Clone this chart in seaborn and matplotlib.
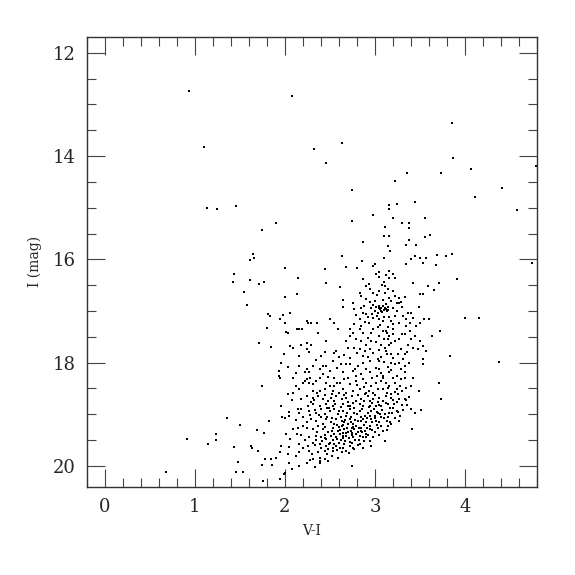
import pandas as pd
import matplotlib
matplotlib.use("Agg")
import matplotlib.pyplot as plt
import seaborn as sns
from matplotlib.ticker import MultipleLocator

# star positions (V-I, I), grouped by region
bright = [
    (0.94, 12.74), (2.08, 12.83), (3.86, 13.35), (1.10, 13.83), (2.63, 13.74), (2.32, 13.87),
    (2.46, 14.14), (3.87, 14.04), (4.07, 14.26), (4.79, 14.19), (3.36, 14.32), (3.73, 14.32),
    (3.22, 14.48), (4.41, 14.62), (2.75, 14.66), (4.11, 14.79), (1.14, 15.00), (1.25, 15.03),
    (1.46, 14.97), (4.58, 15.05), (3.44, 14.88), (3.25, 14.92), (3.16, 14.95), (3.16, 15.03),
    (2.98, 15.14), (1.90, 15.30), (1.74, 15.43), (2.75, 15.26), (3.20, 15.20), (3.30, 15.29),
    (3.38, 15.30), (3.38, 15.39), (3.56, 15.19), (3.11, 15.37), (3.10, 15.54), (3.16, 15.54),
    (3.61, 15.53), (3.56, 15.57), (3.38, 15.63), (3.34, 15.72), (3.46, 15.72), (2.87, 15.67),
    (3.15, 15.74), (3.17, 15.83), (1.64, 15.90), (1.66, 15.98), (1.61, 16.01), (2.63, 15.94),
    (3.69, 15.92), (3.79, 15.94), (3.86, 15.90), (3.44, 15.94), (3.40, 16.00), (3.50, 15.98),
    (3.57, 15.97), (3.10, 15.97), (3.00, 16.09), (2.98, 16.13), (3.34, 16.10), (3.53, 16.08),
    (3.68, 16.11), (4.74, 16.08), (2.68, 16.14), (2.80, 16.17), (2.86, 16.03), (2.00, 16.17),
    (2.44, 16.19), (3.91, 16.39),
]

giants = [
    (3.01, 16.28), (3.05, 16.24), (3.16, 16.23), (3.20, 16.29), (3.22, 16.37), (3.16, 16.37),
    (2.87, 16.39), (3.71, 16.46), (3.42, 16.45), (2.93, 16.48), (3.10, 16.44), (2.46, 16.45),
    (2.15, 16.37), (1.77, 16.44), (1.61, 16.40), (1.71, 16.48), (1.42, 16.43), (1.43, 16.29),
    (3.11, 16.52), (2.90, 16.52), (2.94, 16.58), (2.98, 16.65), (3.05, 16.61), (3.11, 16.65),
    (3.20, 16.61), (3.59, 16.52), (3.66, 16.60), (2.61, 16.54), (2.83, 16.65), (2.85, 16.71),
    (3.22, 16.71), (3.27, 16.74), (3.33, 16.72), (3.50, 16.68), (3.53, 16.68), (3.16, 16.75),
    (2.90, 16.77), (2.64, 16.79), (2.00, 16.72), (2.13, 16.68), (1.55, 16.63),
    (2.94, 16.83), (2.76, 16.84), (2.98, 16.88), (3.01, 16.92), (3.05, 16.90), (3.07, 16.94),
    (3.09, 16.90), (3.11, 16.94), (3.14, 16.92), (3.27, 16.84), (3.24, 16.85), (3.29, 16.83),
    (3.49, 16.92), (2.84, 16.94), (2.77, 16.97), (3.13, 17.00), (3.07, 17.00), (3.03, 17.03),
    (3.00, 17.00), (2.87, 17.03), (2.90, 17.05), (2.97, 17.06), (3.37, 17.03), (3.40, 17.03),
    (2.65, 16.92), (2.79, 17.08), (3.22, 17.10), (1.81, 17.05), (1.83, 17.10), (2.06, 17.03),
    (1.98, 17.08), (1.58, 16.88), (3.06, 16.97), (3.10, 16.98), (3.12, 16.96), (3.04, 16.95),
    (3.15, 16.99), (3.08, 17.02),
    (2.83, 17.16), (2.89, 17.21), (2.93, 17.23), (2.98, 17.14), (3.04, 17.15), (3.09, 17.19),
    (3.16, 17.11), (3.31, 17.10), (3.34, 17.15), (3.42, 17.14), (3.50, 17.24), (3.55, 17.15),
    (3.60, 17.16), (4.00, 17.14), (4.16, 17.14), (3.46, 17.29), (3.39, 17.23), (3.27, 17.23),
    (3.20, 17.26), (3.14, 17.32), (3.03, 17.32), (2.98, 17.35), (2.83, 17.35), (2.77, 17.26),
    (2.72, 17.35), (2.50, 17.15), (2.55, 17.23), (2.59, 17.35), (2.24, 17.19), (2.26, 17.23),
    (2.29, 17.23), (2.36, 17.24), (2.37, 17.42), (2.13, 17.35), (2.16, 17.35), (2.19, 17.35),
    (2.00, 17.23), (2.01, 17.41), (2.03, 17.42), (1.94, 17.15), (1.80, 17.33), (3.72, 17.39),
    (3.39, 17.39),
]

middle = [
    (3.13, 17.42), (3.09, 17.39), (2.96, 17.42), (2.87, 17.42), (2.76, 17.42), (3.16, 17.48),
    (3.20, 17.45), (3.14, 17.55), (2.92, 17.52), (2.72, 17.48), (2.79, 17.55), (2.85, 17.58),
    (2.90, 17.65), (2.96, 17.58), (3.01, 17.61), (3.07, 17.65), (3.16, 17.66), (3.22, 17.58),
    (3.27, 17.55), (3.33, 17.45), (3.44, 17.48), (3.50, 17.58), (3.63, 17.48), (2.46, 17.58),
    (2.18, 17.65), (2.25, 17.63), (2.29, 17.65), (2.06, 17.68), (2.09, 17.71), (1.71, 17.62),
    (2.68, 17.58), (3.53, 17.68),
    (3.11, 17.71), (3.48, 17.74), (3.42, 17.71), (3.37, 17.65), (3.29, 17.74), (3.33, 17.84),
    (3.26, 17.84), (3.18, 17.84), (3.13, 17.84), (3.07, 17.90), (3.03, 17.94), (2.98, 17.81),
    (2.94, 17.74), (2.89, 17.77), (2.83, 17.74), (2.77, 17.71), (2.70, 17.71), (2.57, 17.77),
    (2.55, 17.81), (2.24, 17.74), (2.27, 17.79), (2.16, 17.87), (1.99, 17.84), (1.85, 17.70),
    (3.57, 17.77), (3.83, 17.87), (4.38, 17.98), (3.53, 17.94), (3.31, 17.94), (3.05, 17.97),
    (2.94, 17.97),
    (1.96, 18.00), (2.03, 18.08), (1.93, 18.16), (1.93, 18.26), (1.95, 18.29), (2.09, 18.29),
    (2.16, 18.06), (2.24, 18.13), (2.22, 18.19), (2.27, 18.19), (2.31, 18.06), (2.39, 18.13),
    (2.42, 18.06), (2.46, 18.06), (2.53, 17.97), (2.68, 18.03), (2.72, 18.03), (2.76, 18.16),
    (2.81, 18.06), (2.87, 18.00), (2.90, 18.13), (2.94, 18.19), (3.01, 18.10), (3.05, 18.13),
    (3.09, 18.26), (3.16, 18.19), (3.22, 18.03), (3.27, 18.00), (3.29, 18.13), (3.33, 18.06),
    (3.18, 18.00), (3.53, 18.03), (3.24, 18.26), (3.33, 18.19), (2.79, 18.26), (2.64, 18.19),
    (2.24, 18.32), (2.22, 18.35), (2.27, 18.39), (2.31, 18.42), (2.39, 18.29), (2.46, 18.39),
    (2.50, 18.45), (2.55, 18.45), (2.61, 18.39), (2.66, 18.32), (2.72, 18.42), (2.79, 18.35),
    (2.87, 18.32), (2.90, 18.39), (2.96, 18.45), (3.01, 18.39), (3.07, 18.35), (3.09, 18.52),
    (3.16, 18.45), (3.22, 18.39), (3.24, 18.52), (3.29, 18.32), (3.33, 18.29), (3.49, 18.55),
    (3.71, 18.39), (1.74, 18.46), (2.16, 18.52), (2.09, 18.58), (2.31, 18.55), (2.39, 18.55),
    (2.44, 18.52), (2.53, 18.55), (2.64, 18.52), (2.68, 18.58), (2.76, 18.55), (2.83, 18.52),
    (2.90, 18.58), (2.98, 18.58), (3.03, 18.52), (3.13, 18.58), (3.18, 18.61), (2.03, 18.60),
    (3.09, 18.29),
]

faint = [
    (2.24, 18.65), (2.31, 18.68), (2.37, 18.65), (2.42, 18.71), (2.48, 18.74), (2.51, 18.68),
    (2.57, 18.65), (2.63, 18.71), (2.68, 18.68), (2.74, 18.65), (2.79, 18.74), (2.85, 18.71),
    (2.89, 18.61), (2.92, 18.65), (2.94, 18.74), (2.98, 18.71), (3.03, 18.77), (3.09, 18.74),
    (3.14, 18.81), (3.18, 18.68), (3.27, 18.71), (3.33, 18.71), (3.35, 18.72), (3.73, 18.71),
    (2.31, 18.81), (2.39, 18.84), (2.46, 18.81), (2.53, 18.84), (2.64, 18.81), (2.72, 18.84),
    (2.77, 18.87), (2.87, 18.84), (2.94, 18.84), (3.01, 18.84), (3.07, 18.84), (3.20, 18.87),
    (3.24, 18.77), (2.14, 18.90), (2.18, 18.89), (1.96, 18.84), (2.29, 18.77),
    (2.16, 18.97), (2.27, 18.94), (2.35, 18.97), (2.40, 18.90), (2.44, 19.00), (2.50, 18.94),
    (2.55, 18.90), (2.59, 19.00), (2.64, 18.94), (2.68, 19.03), (2.72, 18.90), (2.77, 18.97),
    (2.83, 18.94), (2.89, 19.03), (2.92, 18.97), (2.96, 18.94), (3.00, 19.03), (3.03, 18.97),
    (3.07, 19.06), (3.11, 19.00), (3.16, 18.97), (3.24, 18.94), (3.45, 18.97), (3.51, 18.92),
    (3.28, 19.03), (3.27, 19.14), (1.97, 19.06), (2.00, 19.08), (2.05, 19.03), (2.20, 19.06),
    (2.29, 19.10), (2.35, 19.13), (2.40, 19.06), (2.46, 19.10), (2.51, 19.16), (2.57, 19.10),
    (2.63, 19.13), (2.66, 19.16), (2.72, 19.10), (2.76, 19.19), (2.81, 19.13), (2.87, 19.10),
    (2.90, 19.16), (2.96, 19.10), (3.01, 19.13), (3.05, 19.16), (3.13, 19.13), (3.18, 19.19),
    (1.82, 19.13), (1.36, 19.08), (2.24, 19.16),
    (2.09, 19.29), (2.14, 19.26), (2.24, 19.26), (2.31, 19.29), (2.37, 19.23), (2.42, 19.29),
    (2.48, 19.35), (2.53, 19.26), (2.59, 19.32), (2.63, 19.23), (2.66, 19.29), (2.70, 19.35),
    (2.74, 19.26), (2.77, 19.29), (2.81, 19.35), (2.85, 19.26), (2.89, 19.32), (2.94, 19.29),
    (3.00, 19.35), (3.03, 19.26), (3.09, 19.32), (3.14, 19.23), (3.41, 19.28), (2.13, 19.39),
    (2.01, 19.39), (2.27, 19.45), (2.35, 19.42), (2.40, 19.45), (2.46, 19.48), (2.51, 19.42),
    (2.57, 19.45), (2.61, 19.39), (2.68, 19.42), (2.76, 19.45), (2.83, 19.42), (2.90, 19.39),
    (2.98, 19.45), (3.11, 19.52), (1.69, 19.31), (1.77, 19.36), (1.50, 19.20), (1.24, 19.39),
    (1.23, 19.49),
    (2.55, 19.19), (2.60, 19.24), (2.64, 19.37), (2.69, 19.26), (2.73, 19.32), (2.79, 19.23),
    (2.86, 19.34), (2.91, 19.26), (2.82, 19.50), (2.75, 19.55), (2.67, 19.52), (2.60, 19.55),
    (2.53, 19.50), (2.64, 19.47), (2.71, 19.47), (2.79, 19.39), (2.87, 19.45), (2.94, 19.52),
    (2.53, 19.65), (2.48, 19.68), (2.95, 19.03), (3.00, 19.08), (2.97, 19.15), (3.02, 18.95),
    (2.16, 19.58), (2.26, 19.61), (2.31, 19.55), (2.39, 19.58), (2.46, 19.61), (2.50, 19.55),
    (2.55, 19.58), (2.61, 19.65), (2.66, 19.58), (2.72, 19.61), (2.77, 19.68), (2.83, 19.58),
    (2.87, 19.65), (2.96, 19.61), (2.27, 19.71), (2.37, 19.74), (2.44, 19.71), (2.53, 19.71),
    (2.63, 19.74), (2.68, 19.71), (2.76, 19.65), (1.96, 19.61), (2.05, 19.63), (1.95, 19.74),
    (2.03, 19.77), (2.16, 19.74), (1.62, 19.61), (1.63, 19.65), (1.70, 19.72), (1.43, 19.63),
    (1.15, 19.57), (0.91, 19.48),
    (2.39, 19.84), (2.44, 19.87), (2.39, 19.90), (2.31, 19.87), (2.59, 19.84), (2.24, 19.95),
    (2.16, 20.00), (2.05, 19.94), (2.08, 20.06), (1.78, 19.86), (1.85, 19.86), (1.90, 19.85),
    (1.75, 19.99), (1.86, 19.98), (1.48, 19.92), (2.75, 20.01), (2.39, 19.95),
    (1.46, 20.11), (1.53, 20.12), (0.68, 20.12), (1.76, 20.30), (1.94, 20.26), (1.99, 20.16),
    (2.00, 20.13),
]

# second pass over the crowded parts of the diagram
faint_extra = [
    (2.33, 18.92), (2.38, 19.02), (2.42, 19.18), (2.45, 19.25), (2.47, 19.05), (2.49, 18.88),
    (2.52, 19.08), (2.54, 19.38), (2.56, 18.80), (2.58, 19.20), (2.60, 18.93), (2.62, 19.05),
    (2.65, 19.42), (2.67, 19.11), (2.69, 18.97), (2.70, 19.18), (2.73, 19.05), (2.75, 19.37),
    (2.78, 19.12), (2.80, 18.99), (2.82, 19.27), (2.84, 19.06), (2.86, 18.90), (2.88, 19.20),
    (2.91, 19.08), (2.93, 18.86), (2.95, 19.22), (2.99, 18.90), (3.02, 19.20), (3.04, 18.82),
    (3.06, 19.00), (3.08, 18.92), (3.10, 19.08), (3.12, 18.78), (3.15, 19.05), (3.17, 18.88),
    (3.19, 18.98), (3.21, 18.80), (2.36, 19.35), (2.41, 19.52), (2.44, 19.40), (2.49, 19.58),
    (2.52, 19.33), (2.57, 19.62), (2.61, 19.30), (2.62, 19.50), (2.68, 19.36), (2.72, 19.54),
    (2.74, 19.40), (2.78, 19.49), (2.81, 19.60), (2.84, 19.33), (2.88, 19.52), (2.92, 19.40),
    (2.97, 19.30), (3.05, 19.40), (2.33, 19.60), (2.40, 19.65), (2.47, 19.78), (2.58, 19.70),
    (2.65, 19.66), (2.71, 19.76), (2.30, 19.78), (2.35, 19.50), (2.22, 19.50), (2.18, 19.40),
    (2.20, 19.22), (2.28, 19.02), (2.32, 18.72), (2.36, 18.58), (2.44, 18.62), (2.52, 18.60),
    (2.60, 18.58), (2.66, 18.62), (2.70, 18.76), (2.76, 18.78), (2.83, 18.80), (2.88, 18.75),
    (2.97, 18.79), (3.05, 18.68), (3.12, 18.64), (3.20, 18.72), (3.22, 18.56), (3.15, 18.50),
    (2.81, 18.62), (2.93, 18.55), (3.00, 18.62), (2.55, 18.75), (2.47, 18.88), (2.62, 18.86),
    (2.70, 18.84), (2.58, 19.48), (2.45, 19.46), (2.76, 19.24), (2.73, 19.15), (2.64, 19.20),
    (2.85, 19.14), (2.90, 19.44), (3.07, 19.22), (3.13, 19.30), (3.17, 19.15), (3.22, 19.08),
    (3.26, 18.95), (3.30, 18.82), (3.31, 18.92), (3.36, 18.82), (3.38, 18.66), (3.40, 18.90),
]

giants_extra = [
    (3.05, 16.35), (3.12, 16.30), (3.08, 16.50), (3.14, 16.58), (3.02, 16.70), (3.09, 16.78),
    (3.18, 16.80), (3.00, 16.80), (3.12, 16.86), (3.20, 16.95), (3.02, 17.10), (3.10, 17.12),
    (3.18, 17.20), (3.06, 17.28), (3.12, 17.38), (3.20, 17.35), (3.04, 17.48), (3.10, 17.55),
    (3.18, 17.62), (3.05, 17.75), (3.12, 17.78), (3.20, 17.92), (3.10, 17.98), (3.14, 18.08),
    (3.07, 18.20), (3.20, 18.30), (3.12, 18.40), (3.02, 18.25), (2.97, 18.30), (3.18, 18.14),
    (2.92, 17.90), (2.87, 17.88), (2.80, 17.82), (2.85, 17.30), (2.92, 17.12), (2.88, 16.90),
    (2.96, 16.95), (3.25, 17.00), (3.30, 16.92), (3.35, 17.30), (3.30, 17.45), (3.40, 17.55),
    (3.36, 17.80), (3.38, 18.00), (3.42, 18.30), (3.40, 18.45), (3.28, 18.45), (3.26, 18.60),
    (3.30, 18.55), (3.35, 18.50),
    (2.12, 18.20), (2.20, 18.40), (2.28, 18.30), (2.35, 18.36), (2.42, 18.22), (2.48, 18.28),
    (2.55, 18.30), (2.58, 18.10), (2.62, 18.02), (2.50, 18.16), (2.35, 17.95), (2.40, 17.88),
    (2.45, 17.80), (2.60, 17.90), (2.66, 17.86), (2.72, 17.92), (2.78, 18.12), (2.84, 18.22),
    (2.88, 18.48), (2.80, 18.44), (2.70, 18.30), (2.58, 18.40), (2.12, 18.45), (2.18, 18.70),
    (2.26, 18.85), (2.08, 18.72), (2.04, 18.95), (2.12, 19.12), (2.06, 19.48), (2.20, 19.65),
    (2.12, 19.80), (2.28, 19.88), (2.48, 19.90), (2.52, 19.80), (2.33, 20.02),
]

stars = pd.DataFrame(bright + giants + middle + faint + faint_extra + giants_extra,
                     columns=["VI", "I"])

sns.set_style("ticks")
plt.rcParams["font.family"] = ["DejaVu Serif"]

fig = plt.figure(figsize=(5.75, 5.75), dpi=100)
ax = fig.add_axes([0.151, 0.153, 0.783, 0.783])

sns.scatterplot(data=stars, x="VI", y="I", ax=ax, color="black", marker="s",
                s=3, linewidth=0, legend=False)

ax.set_xlim(-0.2, 4.8)
ax.set_ylim(20.41, 11.69)
ax.xaxis.set_major_locator(MultipleLocator(1))
ax.xaxis.set_minor_locator(MultipleLocator(0.2))
ax.yaxis.set_major_locator(MultipleLocator(2))
ax.yaxis.set_minor_locator(MultipleLocator(0.5))

ax.tick_params(which="both", direction="in", top=True, right=True, color="#444444", width=0.8)
ax.tick_params(which="major", length=13, labelsize=13, pad=8)
ax.tick_params(which="minor", length=6.5)
for sp in ax.spines.values():
    sp.set_color("#333333")
    sp.set_linewidth(1.0)

ax.set_xlabel("V-I", fontsize=10, labelpad=6)
ax.set_ylabel("I (mag)", fontsize=10, labelpad=8)

fig.savefig("out.png", dpi=100)
plt.close()
